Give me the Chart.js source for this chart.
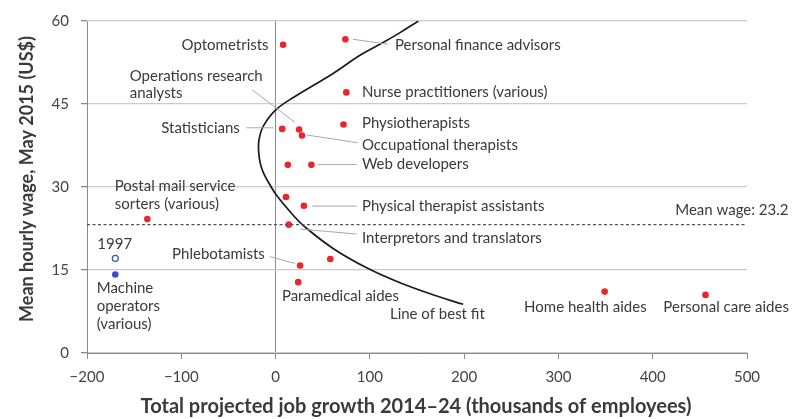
<!DOCTYPE html>
<html>
<head>
<meta charset="utf-8">
<script src="https://cdn.jsdelivr.net/npm/chart.js@4.4.1/dist/chart.umd.min.js"></script>
<style>
    body { margin: 0; background: #fff; }
    #wrap { width: 798px; height: 419px; }
</style>
</head>
<body>
<div id="wrap"><canvas id="wageChart"></canvas></div>
<script>
// Occupations, 2014-24 projected growth (thousands) and May 2015 mean hourly wage
const occupations = [
    "Optometrists", "Personal finance advisors", "Nurse practitioners (various)", "Physiotherapists",
    "Statisticians", "Operations research analysts", "Occupational therapists", "",
    "Web developers", "", "Physical therapist assistants", "Interpretors and translators",
    "", "Phlebotamists", "Paramedical aides", "Postal mail service sorters (various)",
    "Home health aides", "Personal care aides"
];
const jobGrowth = [8, 74, 75, 72, 7, 25, 28, 13, 38, 11, 30, 14, 58, 26, 24, -136, 349, 456];
const hourlyWage = [55.7, 56.7, 47.1, 41.3, 40.5, 40.4, 39.3, 34.0, 34.0, 28.2, 26.6, 23.2, 17.0, 15.8, 12.8, 24.2, 11.1, 10.5];

// Machine operators (various): 2015 and 1997
const machineGrowth = [-170];
const machineWage2015 = [14.2];
const machineWage1997 = [17.1];

// Mean wage across all occupations
const meanWage = 23.2;
const xRange = [-200, 500];

// Line of best fit
const fitX = [151.5, 132, 114, 89.5, 61, 43.5, 21, 0, -13, -17.5, -18, -16.5, -13, -6, 1, 18.7, 31, 61, 96.6, 132, 171, 199];
const fitY = [60, 57.9, 56.1, 53.8, 50.5, 48.7, 46.4, 43.9, 41.0, 38.6, 36.6, 34.5, 32.6, 30.4, 28.5, 24.9, 22.8, 18.9, 15.4, 12.7, 10.3, 8.8];

// Axis ticks
const xTicks = [-200, -100, 0, 100, 200, 300, 400, 500];
const yTicks = [0, 15, 30, 45, 60];

// Text labels: [text, x, y, align] in data units
const labelLayout = [
    ["Optometrists", -7.4, 55.7, "right"],
    ["Personal finance advisors", 126.6, 55.7, "left"],
    ["Operations research", -154.7, 50.1, "left"],
    ["analysts", -154.7, 46.9, "left"],
    ["Nurse practitioners (various)", 91.6, 47.1, "left"],
    ["Statisticians", -37.9, 40.7, "right"],
    ["Physiotherapists", 91.6, 41.6, "left"],
    ["Occupational therapists", 91.6, 37.5, "left"],
    ["Web developers", 91.6, 34.05, "left"],
    ["Postal mail service", -170.6, 30.1, "left"],
    ["sorters (various)", -170.6, 26.9, "left"],
    ["Physical therapist assistants", 91.6, 26.55, "left"],
    ["Interpretors and translators", 91.6, 20.8, "left"],
    ["Mean wage: 23.2", 544, 25.8, "right"],
    ["1997", -170.6, 19.6, "center"],
    ["Phlebotamists", -11.4, 17.8, "right"],
    ["Machine", -189.7, 11.7, "left"],
    ["operators", -189.7, 8.5, "left"],
    ["(various)", -189.7, 5.3, "left"],
    ["Paramedical aides", 6.7, 10.3, "left"],
    ["Line of best fit", 121.3, 7.1, "left"],
    ["Home health aides", 263.6, 8.2, "left"],
    ["Personal care aides", 411.3, 8.2, "left"]
];

// Leader lines: [x1, y1, x2, y2] in data units
const leaderLayout = [
    [82, 56.7, 119, 55.8],
    [-25, 47.6, 20.5, 41.7],
    [-31, 40.7, -2, 40.7],
    [33, 39.4, 87, 38.0],
    [45, 34.05, 86, 34.05],
    [39, 26.55, 86, 26.55],
    [26, 22.4, 86, 21.5],
    [-6, 17.4, 20.5, 16.2]
];

const FONT = "Lato, 'Noto Sans', sans-serif";
const TEXT = "#3a3a3a";

function toPoints(xs, ys) {
    return xs.map((x, i) => ({ x: x, y: ys[i] }));
}

// Draw labels, leader lines and axis titles on top of the chart
const annotatePlugin = {
    id: "annotate",
    afterDatasetsDraw(chart) {
        const ctx = chart.ctx;
        const xs = chart.scales.x;
        const ys = chart.scales.y;
        ctx.save();

        ctx.strokeStyle = "#a8a8a8";
        ctx.lineWidth = 1;
        leaderLayout.forEach(l => {
            ctx.beginPath();
            ctx.moveTo(xs.getPixelForValue(l[0]), ys.getPixelForValue(l[1]));
            ctx.lineTo(xs.getPixelForValue(l[2]), ys.getPixelForValue(l[3]));
            ctx.stroke();
        });

        ctx.fillStyle = TEXT;
        ctx.font = "15px " + FONT;
        ctx.textBaseline = "middle";
        labelLayout.forEach(l => {
            ctx.textAlign = l[3];
            ctx.fillText(l[0], xs.getPixelForValue(l[1]), ys.getPixelForValue(l[2]));
        });

        // Axis titles
        ctx.textAlign = "center";
        ctx.font = "bold 20px " + FONT;
        ctx.fillText("Total projected job growth 2014\u201324 (thousands of employees)", 416, 407);
        ctx.font = "bold 18px " + FONT;
        ctx.translate(27, 179);
        ctx.rotate(-Math.PI / 2);
        ctx.fillText("Mean hourly wage, May 2015 (US$)", 0, 0);
        ctx.restore();
    }
};

const ctx = document.getElementById("wageChart").getContext("2d");
new Chart(ctx, {
    type: "scatter",
    data: {
        datasets: [
            {
                label: "Mean wage",
                data: [{ x: xRange[0], y: meanWage }, { x: xRange[1], y: meanWage }],
                showLine: true,
                borderColor: "#555",
                borderWidth: 1.2,
                borderDash: [3, 2.5],
                pointRadius: 0
            },
            {
                label: "Line of best fit",
                data: toPoints(fitX, fitY),
                showLine: true,
                borderColor: "#1a1a1a",
                borderWidth: 1.7,
                tension: 0.4,
                pointRadius: 0
            },
            {
                label: "Occupations",
                data: toPoints(jobGrowth, hourlyWage),
                backgroundColor: "#e8262b",
                borderWidth: 0,
                pointRadius: 3.3
            },
            {
                label: "Machine operators 2015",
                data: toPoints(machineGrowth, machineWage2015),
                backgroundColor: "#3b4fc4",
                borderWidth: 0,
                pointRadius: 3.3
            },
            {
                label: "Machine operators 1997",
                data: toPoints(machineGrowth, machineWage1997),
                backgroundColor: "#fff",
                borderColor: "#3b4fc4",
                borderWidth: 1.2,
                pointRadius: 3
            }
        ]
    },
    options: {
        responsive: true,
        maintainAspectRatio: false,
        animation: false,
        layout: { padding: { top: 17, right: 51, left: 0, bottom: 0 } },
        plugins: {
            legend: { display: false },
            tooltip: { enabled: false }
        },
        scales: {
            x: {
                type: "linear",
                min: xTicks[0],
                max: xTicks[xTicks.length - 1],
                afterBuildTicks: axis => { axis.ticks = xTicks.map(v => ({ value: v })); },
                afterFit: axis => { axis.height = 66; },
                border: { color: "#8a8a8a", width: 1 },
                grid: {
                    color: c => (c.tick && c.tick.value === 0 ? "#8a8a8a" : "rgba(0,0,0,0)"),
                    tickColor: "#8a8a8a",
                    tickLength: 6,
                    lineWidth: 1
                },
                ticks: {
                    color: "#444",
                    font: { family: FONT, size: 15 },
                    padding: 9,
                    callback: v => (v < 0 ? "\u2212" + Math.abs(v) : v)
                }
            },
            y: {
                type: "linear",
                min: yTicks[0],
                max: yTicks[yTicks.length - 1],
                afterBuildTicks: axis => { axis.ticks = yTicks.map(v => ({ value: v })); },
                afterFit: axis => { axis.width = 87; },
                border: { color: "#8a8a8a", width: 1 },
                grid: {
                    color: "#cbcbcb",
                    tickColor: "#8a8a8a",
                    tickLength: 6,
                    lineWidth: 1.3
                },
                ticks: {
                    color: "#444",
                    font: { family: FONT, size: 15 },
                    padding: 12
                }
            }
        }
    },
    plugins: [annotatePlugin]
});
</script>
</body>
</html>
